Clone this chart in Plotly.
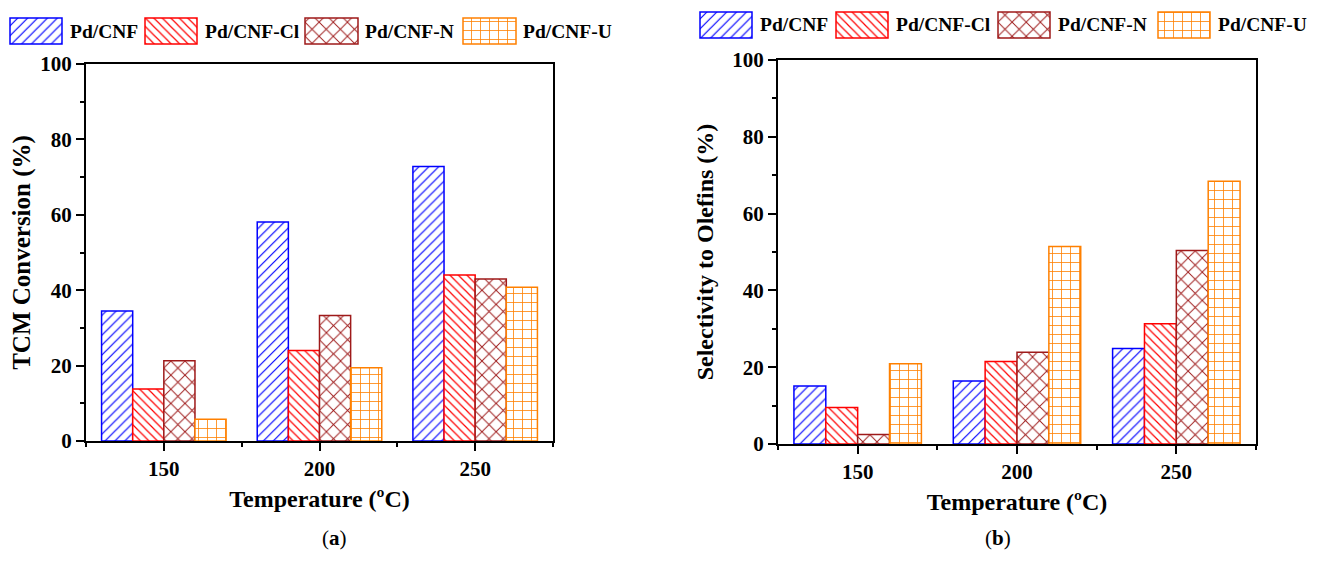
import plotly.graph_objects as go

# ---------------- data ----------------
temperatures = [150, 200, 250]
series_names = ["Pd/CNF", "Pd/CNF-Cl", "Pd/CNF-N", "Pd/CNF-U"]
tcm_conversion = {
    "Pd/CNF":    [34.5, 58.1, 72.8],
    "Pd/CNF-Cl": [13.8, 24.0, 44.0],
    "Pd/CNF-N":  [21.3, 33.3, 43.0],
    "Pd/CNF-U":  [5.8, 19.4, 40.8],
}
olefin_selectivity = {
    "Pd/CNF":    [15.1, 16.4, 24.9],
    "Pd/CNF-Cl": [9.5, 21.5, 31.3],
    "Pd/CNF-N":  [2.5, 23.9, 50.4],
    "Pd/CNF-U":  [20.9, 51.4, 68.4],
}
y_ticks = [0, 20, 40, 60, 80, 100]

# ---------------- styles ----------------
colors = {"Pd/CNF": "#0000FF", "Pd/CNF-Cl": "#FF0000",
          "Pd/CNF-N": "#9E1A1A", "Pd/CNF-U": "#FF8000"}
shapes = {"Pd/CNF": "/", "Pd/CNF-Cl": "\\", "Pd/CNF-N": "x", "Pd/CNF-U": "+"}
psize = {"Pd/CNF": 7, "Pd/CNF-Cl": 6, "Pd/CNF-N": 10, "Pd/CNF-U": 9}
psol = {"Pd/CNF": 0.17, "Pd/CNF-Cl": 0.2, "Pd/CNF-N": 0.18, "Pd/CNF-U": 0.17}

# page body has an 8px margin; size the figure so it fits the 1321x577 window
VIEW_W, VIEW_H, OFF = 1321, 577, 8
W, H = VIEW_W - 2 * OFF, VIEW_H - 2 * OFF
FONT = "Liberation Serif"

def px_x(p):
    return (p - OFF) / W

def px_y(p):
    return 1 - (p - OFF) / H

fig = go.Figure()

for axis_suffix, data in (("", tcm_conversion), ("2", olefin_selectivity)):
    for name in series_names:
        c = colors[name]
        fig.add_trace(go.Bar(
            x=temperatures, y=data[name], name=name,
            xaxis="x" + axis_suffix, yaxis="y" + axis_suffix,
            marker=dict(color="white",
                        line=dict(color=c, width=1.5),
                        pattern=dict(shape=shapes[name], fgcolor=c, bgcolor="white",
                                     size=psize[name], solidity=psol[name],
                                     fillmode="replace")),
            showlegend=False,
        ))

# ---------------- custom legend swatches (pixel-space overlay axis) ----------------
leg_left_x = [(10, 62), (145, 197), (305, 358), (463, 516)]
leg_left_y = (18, 44)
leg_left_text = [68, 203, 363, 521]
leg_right_x = [(700, 752), (836, 888), (998, 1050), (1158, 1210)]
leg_right_y = (12, 38)
leg_right_text = [758, 894, 1056, 1216]

sw_x, sw_w, sw_base, sw_h, sw_shape, sw_col, sw_size, sw_sol = [], [], [], [], [], [], [], []
for xs, ys in ((leg_left_x, leg_left_y), (leg_right_x, leg_right_y)):
    for (a, b), name in zip(xs, series_names):
        sw_x.append((a + b) / 2 - OFF)
        sw_w.append(b - a)
        sw_base.append(ys[0] - OFF)
        sw_h.append(ys[1] - ys[0])
        sw_shape.append(shapes[name])
        sw_col.append(colors[name])
        sw_size.append(psize[name])
        sw_sol.append(psol[name])

fig.add_trace(go.Bar(
    x=sw_x, y=sw_h, base=sw_base, width=sw_w, xaxis="x3", yaxis="y3",
    marker=dict(color="white", line=dict(color=sw_col, width=1.5),
                pattern=dict(shape=sw_shape, fgcolor=sw_col, bgcolor="white",
                             size=sw_size, solidity=sw_sol, fillmode="replace")),
    showlegend=False, hoverinfo="skip",
))

annotations = []
for xs_text, ys in ((leg_left_text, leg_left_y), (leg_right_text, leg_right_y)):
    for tx, name in zip(xs_text, series_names):
        annotations.append(dict(
            x=px_x(tx), y=px_y((ys[0] + ys[1]) / 2), xref="paper", yref="paper",
            text="<b>%s</b>" % name, showarrow=False, xanchor="left", yanchor="middle",
            font=dict(family=FONT, size=19.5, color="black")))

annotations.append(dict(x=px_x(320), y=px_y(552), xref="paper", yref="paper",
                        text="(<b>a</b>)", showarrow=False,
                        font=dict(family=FONT, size=21, color="black")))
annotations.append(dict(x=px_x(1013), y=px_y(552), xref="paper", yref="paper",
                        text="(<b>b</b>)", showarrow=False,
                        font=dict(family=FONT, size=21, color="black")))

tickfont = dict(family=FONT, size=21, color="black")

def xaxis_cfg(domain, anchor):
    return dict(domain=domain, range=[125, 275], tickvals=temperatures, anchor=anchor,
                ticktext=["<b>%d</b>" % t for t in temperatures],
                ticks="outside", ticklen=8, tickwidth=2, tickcolor="black",
                linecolor="black", linewidth=2, mirror=True,
                showgrid=False, zeroline=False, automargin=False,
                tickfont=tickfont,
                minor=dict(tickvals=[125, 175, 225, 275], ticks="outside",
                           ticklen=4, tickwidth=2, tickcolor="black", showgrid=False),
                title=dict(text="<b>Temperature (ºC)</b>",
                           font=dict(family=FONT, size=24, color="black"), standoff=10))

def yaxis_cfg(domain, anchor, title, size):
    return dict(domain=domain, range=[0, 100], tickvals=y_ticks,
                ticktext=["<b>%d</b>" % t for t in y_ticks], anchor=anchor,
                ticks="outside", ticklen=8, tickwidth=2, tickcolor="black",
                linecolor="black", linewidth=2, mirror=True,
                showgrid=False, zeroline=False, automargin=False,
                tickfont=tickfont,
                minor=dict(tickvals=[10, 30, 50, 70, 90], ticks="outside",
                           ticklen=4, tickwidth=2, tickcolor="black", showgrid=False),
                title=dict(text="<b>%s</b>" % title,
                           font=dict(family=FONT, size=size, color="black"), standoff=12))

fig.update_layout(
    width=W, height=H,
    margin=dict(l=0, r=0, t=0, b=0),
    paper_bgcolor="white", plot_bgcolor="rgba(0,0,0,0)",
    barmode="group", bargap=0.2, bargroupgap=0,
    showlegend=False,
    xaxis=xaxis_cfg([px_x(86), px_x(553)], "y"),
    yaxis=yaxis_cfg([px_y(441), px_y(64)], "x", "TCM Conversion (%)", 25),
    xaxis2=xaxis_cfg([px_x(778), px_x(1256)], "y2"),
    yaxis2=yaxis_cfg([px_y(444), px_y(60)], "x2", "Selectivity to Olefins (%)", 24),
    xaxis3=dict(domain=[0, 1], range=[0, W], visible=False, anchor="y3", fixedrange=True),
    yaxis3=dict(domain=[0, 1], range=[H, 0], visible=False, anchor="x3", fixedrange=True),
    annotations=annotations,
)

fig.write_html("out.html")
